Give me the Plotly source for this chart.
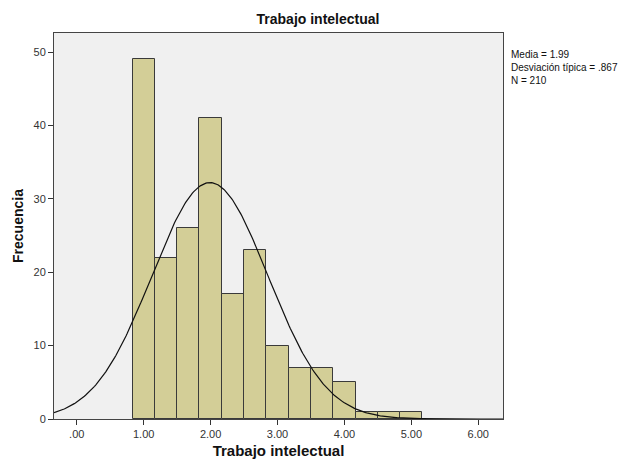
import numpy as np
import plotly.graph_objects as go

# Histogram of "Trabajo intelectual" (bin width 1/3)
bin_centers = [1.0, 1.3333, 1.6667, 2.0, 2.3333, 2.6667, 3.0, 3.3333, 3.6667, 4.0, 4.3333, 4.6667, 5.0]
frequencies = [49, 22, 26, 41, 17, 23, 10, 7, 7, 5, 1, 1, 1]
bin_width = 1 / 3

mean_value = 1.99
std_value = 0.867
n_total = 210

x_tick_vals = [0, 1, 2, 3, 4, 5, 6]
x_tick_text = [".00", "1.00", "2.00", "3.00", "4.00", "5.00", "6.00"]
y_tick_vals = [0, 10, 20, 30, 40, 50]

FONT = "Arial, Liberation Sans, sans-serif"

# Fitted normal curve scaled to counts
xs = np.linspace(-0.34, 6.37, 400)
ys = n_total * bin_width / (std_value * np.sqrt(2 * np.pi)) * np.exp(-0.5 * ((xs - mean_value) / std_value) ** 2)

fig = go.Figure()
fig.add_trace(go.Bar(
    x=bin_centers, y=frequencies, width=bin_width,
    marker=dict(color="#d3ce97", line=dict(color="#3a3a3a", width=1)),
    hoverinfo="x+y",
))
fig.add_trace(go.Scatter(
    x=xs, y=ys, mode="lines",
    line=dict(color="#111111", width=1.2),
    hoverinfo="skip",
))

fig.update_layout(
    width=636, height=465,
    margin=dict(l=54, r=133, t=33, b=46),
    paper_bgcolor="white",
    plot_bgcolor="#f0f0f0",
    showlegend=False,
    bargap=0,
    font=dict(family=FONT, size=11, color="#222222"),
    title=dict(text="<b>Trabajo intelectual</b>", x=0.5, xanchor="center",
               y=1 - 19 / 465, yanchor="middle",
               font=dict(family=FONT, size=14, color="#111111")),
    xaxis=dict(
        range=[-0.34, 6.37], tickvals=x_tick_vals, ticktext=x_tick_text,
        ticks="outside", ticklen=5, tickcolor="#333333",
        showline=True, linecolor="#444444", linewidth=1, mirror=True,
        showgrid=False, zeroline=False, automargin=False,
        title=dict(text="<b>Trabajo intelectual</b>", standoff=6,
                   font=dict(family=FONT, size=15, color="#111111")),
        tickfont=dict(family=FONT, size=11, color="#333333"),
    ),
    yaxis=dict(
        range=[0, 52.6], tickvals=y_tick_vals,
        ticks="outside", ticklen=5, tickcolor="#333333",
        showline=True, linecolor="#444444", linewidth=1, mirror=True,
        showgrid=False, zeroline=False, automargin=False,
        title=dict(text="<b>Frecuencia</b>", standoff=6,
                   font=dict(family=FONT, size=14, color="#111111")),
        tickfont=dict(family=FONT, size=11, color="#333333"),
    ),
)

# Summary statistics beside the plot
stats_text = "<br>".join([
    f"Media = {mean_value:.2f}",
    f"Desviación típica = {str(std_value)[1:]}",
    f"N = {n_total}",
])
fig.add_annotation(
    xref="paper", yref="paper", x=1.013, y=1 - (67 - 33) / 386,
    xanchor="left", yanchor="middle", align="left", showarrow=False,
    text=stats_text, font=dict(family=FONT, size=10, color="#111111"),
)

fig.write_html("out.html")
